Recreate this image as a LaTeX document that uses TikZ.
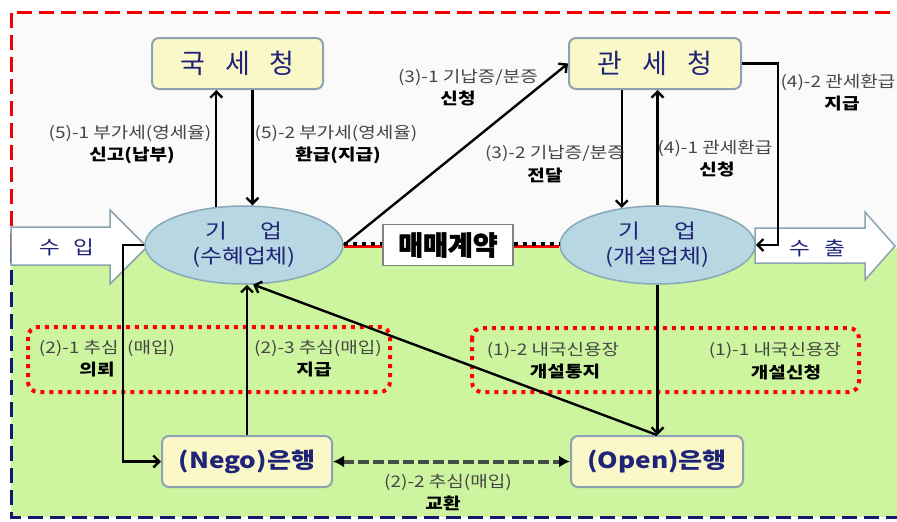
\documentclass[tikz,border=0pt]{standalone}
\usepackage{fontspec}
\setmainfont{Noto Sans CJK KR}
\newfontfamily\krw[FakeStretch=1.19]{Noto Sans CJK KR}
\newfontfamily\krc[FakeBold=2]{Noto Sans CJK KR}
\usetikzlibrary{arrows.meta,shapes.geometric}
\definecolor{navy}{RGB}{32,36,120}
\definecolor{labgrey}{RGB}{70,70,70}
\definecolor{boxfill}{RGB}{250,247,201}
\definecolor{boxline}{RGB}{140,162,175}
\definecolor{ellfill}{RGB}{183,215,226}
\definecolor{ellline}{RGB}{135,168,182}
\definecolor{greenbg}{RGB}{205,245,160}
\definecolor{topbg}{RGB}{250,250,250}
\definecolor{borderred}{RGB}{240,0,0}
\definecolor{borderblue}{RGB}{20,24,110}
\definecolor{dashgrey}{RGB}{70,76,70}
\tikzset{
  titlebox/.style={draw=boxline, fill=boxfill, line width=2pt, rounded corners=7pt,
    minimum height=51pt, text=navy, font=\fontsize{27}{30}\selectfont, inner sep=0pt},
  bankbox/.style={draw=boxline, fill=boxfill, line width=2pt, rounded corners=7pt,
    minimum height=51pt, text=navy, font=\krw\fontsize{22}{26}\selectfont\bfseries, inner sep=0pt},
  firm/.style={ellipse, draw=ellline, fill=ellfill, line width=1.5pt, minimum width=198pt,
    minimum height=78pt, inner sep=0pt, text=navy, align=center,
    font=\krw\fontsize{20}{25}\selectfont},
  contract/.style={draw=gray, fill=white, line width=1.2pt, minimum width=130pt,
    minimum height=41pt, inner sep=0pt, font=\krc\fontsize{27}{30}\selectfont\bfseries},
  bigarrow/.style={draw=boxline, fill=white, line width=1.5pt},
  arrowtext/.style={text=navy, font=\krw\fontsize{19}{22}\selectfont, inner sep=0pt},
  lbl/.style={text=labgrey, font=\krw\fontsize{16}{18}\selectfont, inner sep=0pt},
  lblb/.style={text=black, font=\krw\fontsize{16}{18}\selectfont\bfseries, inner sep=0pt},
  arr/.style={line width=2.4pt, -{Straight Barb[length=6pt,width=12pt]}},
  dasharr/.style={line width=4pt, dashgrey, dash pattern=on 11pt off 4pt,
    {Latex[length=11pt,width=12pt,black]}-{Latex[length=11pt,width=12pt,black]}},
  dotbox/.style={draw=red, line width=4pt, dash pattern=on 4pt off 5pt, rounded corners=10pt},
  redborder/.style={draw=borderred, line width=3pt, dash pattern=on 15pt off 7pt},
  blueborder/.style={draw=borderblue, line width=3pt, dash pattern=on 15pt off 7pt},
}
\begin{document}
\begin{tikzpicture}[x=1pt,y=-1pt]
\useasboundingbox (0,0) rectangle (897,522);
\fill[white] (0,0) rectangle (897,522);
\fill[topbg] (11,12) rectangle (897,248);
\fill[greenbg] (11,248) rectangle (897,517);
\draw[redborder] (11,248) -- (11,12) -- (897,12);
\draw[blueborder] (11,248) -- (11,517) -- (897,517);

% dotted group boxes
\draw[dotbox] (28,327) rectangle (390,392);
\draw[dotbox] (472,328) rectangle (859,392);

% import / export arrows
\draw[bigarrow] (11,227) -- (110,227) -- (110,210) -- (147,247) -- (110,284) -- (110,265) -- (11,265) -- cycle;
\node[arrowtext] (imp) at (67,247) {수\hspace{14pt}입};
\draw[bigarrow] (755,228) -- (865,228) -- (865,212) -- (895,246) -- (865,280) -- (865,263) -- (755,263) -- cycle;
\node[arrowtext] (exp) at (817,248) {수\hspace{14pt}출};

% main nodes
\node[titlebox, minimum width=171pt] (nts) at (237.5,63.5) {국\hspace{20pt}세\hspace{20pt}청};
\node[titlebox, minimum width=172pt] (kcs) at (655,63.5) {관\hspace{20pt}세\hspace{20pt}청};
\node[firm] (fL) at (244,245) {기\hspace{34pt}업\\(수혜업체)};
\node[firm, minimum width=195pt] (fR) at (657.5,245) {기\hspace{34pt}업\\(개설업체)};
\node[bankbox, minimum width=170pt] (nego) at (247,461.5) {(Nego)은행};
\node[bankbox, minimum width=172pt] (open) at (657,461.5) {(Open)은행};
\node[contract] (ct) at (448,245) {매매계약};

% contract line
\draw[red, line width=2.5pt] ([yshift=-1.5pt]fL.east) -- ([yshift=-1.5pt]fL.east -| ct.west);
\draw[black, line width=4pt, dash pattern=on 4pt off 5pt] ([yshift=1pt]fL.east) -- ([yshift=1pt]fL.east -| ct.west);
\draw[red, line width=2.5pt] ([yshift=-1.5pt]ct.east) -- ([yshift=-1.5pt]ct.east -| fR.west);
\draw[black, line width=4pt, dash pattern=on 4pt off 5pt] ([yshift=1pt]ct.east) -- ([yshift=1pt]ct.east -| fR.west);

% connectors
\draw[arr] (fL.126.8) -- (fL.126.8 |- nts.south);
\draw[arr] (fL.78.4 |- nts.south) -- (fL.78.4);
\draw[arr] (fL.east) -- (kcs.west);
\draw[arr] (fR.134.4 |- kcs.south) -- (fR.134.4);
\draw[arr] (fR.north) -- (fR.north |- kcs.south);
\draw[arr] (kcs.east) -- ++(36,0) |- (fR.east);
\draw[arr] (fL.west) -- ++(-21,0) |- (nego.west);
\draw[arr] (nego.north) -- (nego.north |- fL.south);
\draw[arr] (open.north) -- (fL.283);
\draw[arr] (fR.south) -- (fR.south |- open.north);
\draw[dasharr] (nego.east) -- (open.west);

% labels
\node[lbl] (l51a) at (130,133) {(5)-1 부가세(영세율)};
\node[lblb] (l51b) at (132,155) {신고(납부)};
\node[lbl] (l52a) at (336,133) {(5)-2 부가세(영세율)};
\node[lblb] (l52b) at (338,155) {환급(지급)};
\node[lbl] (l31a) at (468,77) {(3)-1 기납증/분증};
\node[lblb] (l31b) at (458,98) {신청};
\node[lbl] (l32a) at (555,153) {(3)-2 기납증/분증};
\node[lblb] (l32b) at (545,175) {전달};
\node[lbl] (l41a) at (715,148) {(4)-1 관세환급};
\node[lblb] (l41b) at (717,169) {신청};
\node[lbl] (l42a) at (838,82) {(4)-2 관세환급};
\node[lblb] (l42b) at (842,104) {지급};
\node[lbl] (l21a) at (107,348) {(2)-1 추심~~(매입)};
\node[lblb] (l21b) at (97,370) {의뢰};
\node[lbl] (l23a) at (318,348) {(2)-3 추심(매입)};
\node[lblb] (l23b) at (314,370) {지급};
\node[lbl] (l12a) at (553,350) {(1)-2 내국신용장};
\node[lblb] (l12b) at (565,372) {개설통지};
\node[lbl] (l11a) at (775,350) {(1)-1 내국신용장};
\node[lblb] (l11b) at (786,372) {개설신청};
\node[lbl] (l22a) at (448,482) {(2)-2 추심(매입)};
\node[lblb] (l22b) at (443,503) {교환};
\end{tikzpicture}
\end{document}
